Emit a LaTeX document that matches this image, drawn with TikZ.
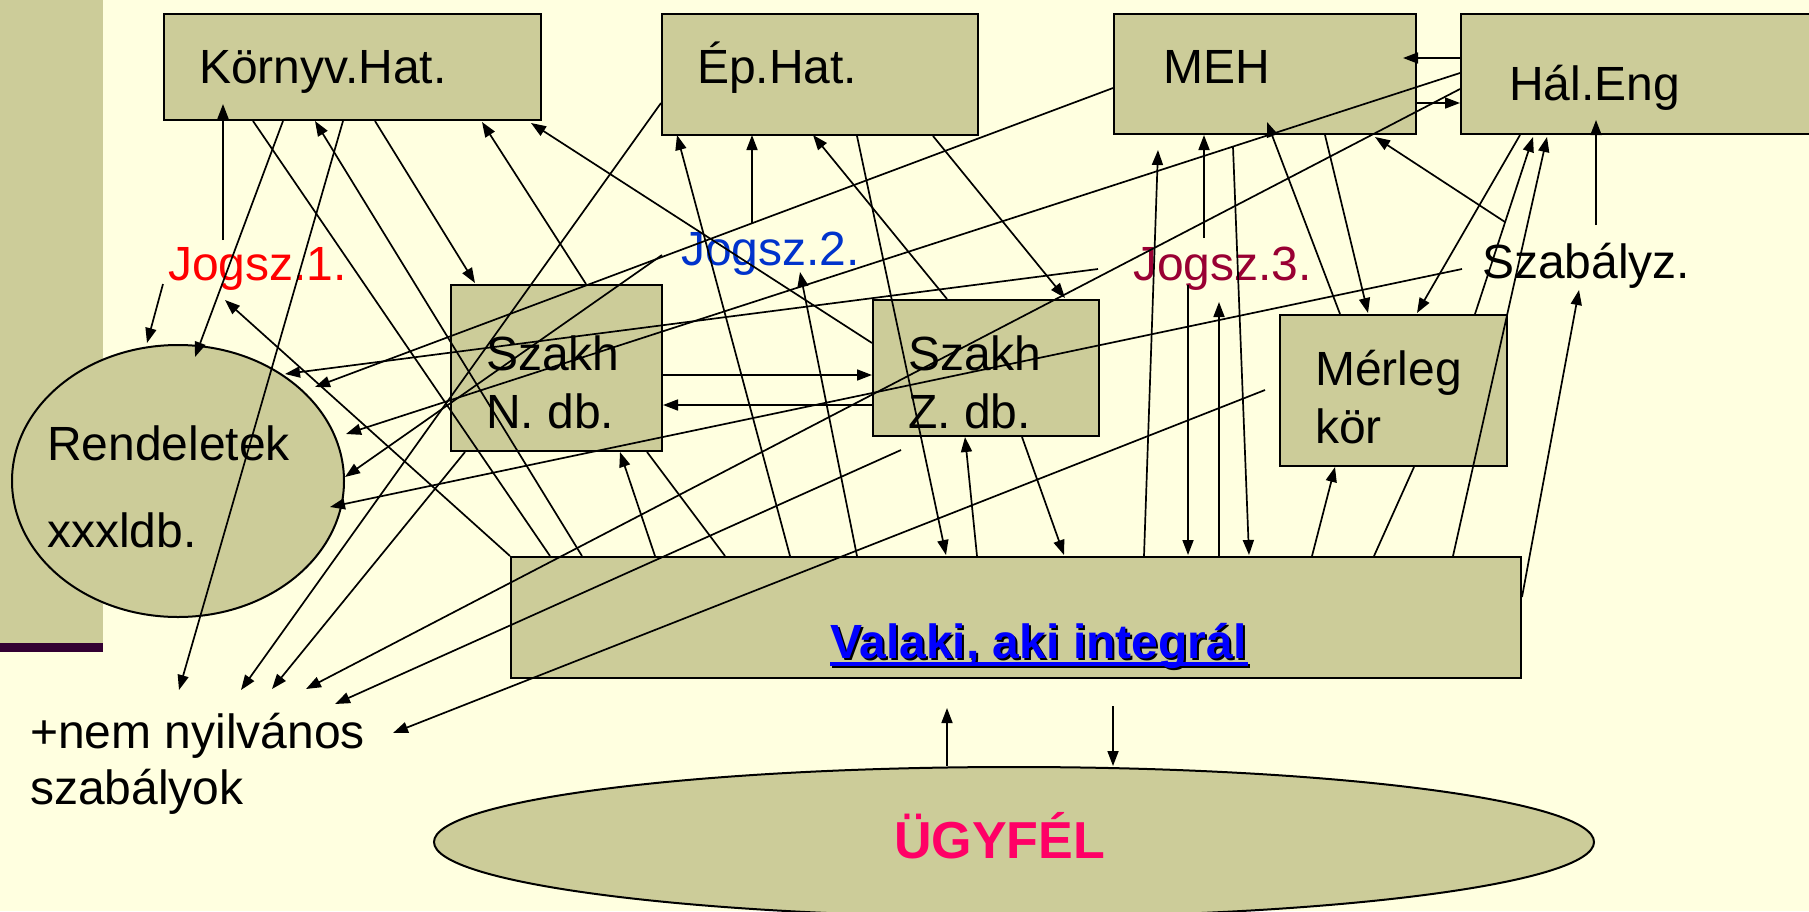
\documentclass[tikz,border=0pt]{standalone}
\usepackage{fontspec}
\setmainfont{Liberation Sans}
\usetikzlibrary{arrows.meta,shapes.geometric}
\definecolor{bg}{RGB}{255,255,224}
\definecolor{khaki}{RGB}{204,204,153}
\definecolor{barpurple}{RGB}{51,0,51}
\definecolor{jred}{RGB}{255,0,0}
\definecolor{jblue}{RGB}{0,51,204}
\definecolor{jwine}{RGB}{153,0,51}
\definecolor{ugy}{RGB}{255,0,102}
\definecolor{linkblue}{RGB}{0,0,255}
\begin{document}
\begin{tikzpicture}[x=1pt,y=-1pt,
  box/.style={draw=black, line width=2pt, fill=khaki, rectangle, inner sep=0pt, anchor=north west},
  oval/.style={draw=black, line width=2pt, fill=khaki, ellipse, inner sep=0pt},
  lbl/.style={anchor=base west, inner sep=0pt, font=\fontsize{48}{52}\selectfont},
  ar/.style={line width=1.7pt, -{Triangle[length=15pt,width=11pt]}},
  ln/.style={line width=1.7pt}]
\useasboundingbox (0,0) rectangle (1809,911);
\fill[bg] (0,0) rectangle (1809,911);
\fill[khaki] (0,0) rectangle (103,643);
\fill[barpurple] (0,643) rectangle (103,652);

% shapes
\node[box, minimum width=377pt, minimum height=106pt] (kh) at (163,13) {};
\node[box, minimum width=316pt, minimum height=121pt] (eh) at (661,13) {};
\node[box, minimum width=302pt, minimum height=120pt] (meh) at (1113,13) {};
\node[box, minimum width=360pt, minimum height=120pt] (hal) at (1460,13) {};
\node[box, minimum width=211pt, minimum height=166pt] (szn) at (450,284) {};
\node[box, minimum width=226pt, minimum height=136pt] (szz) at (872,299) {};
\node[box, minimum width=227pt, minimum height=151pt] (mer) at (1279,314) {};
\node[box, minimum width=1010pt, minimum height=121pt] (val) at (510,556) {};
\node[oval, minimum width=332pt, minimum height=272pt] (ren) at (178,481) {};
\node[oval, minimum width=1160pt, minimum height=150pt] (ugyfel) at (1014,842) {};

% texts
\node[lbl] (tkh) at (199,83) {Környv.Hat.};
\node[lbl] (teh) at (697,83) {Ép.Hat.};
\node[lbl] (tmeh) at (1163,83) {MEH};
\node[lbl] (thal) at (1509,100) {Hál.Eng};
\node[lbl, text=jred] (j1) at (168,280) {Jogsz.1.};
\node[lbl, text=jblue] (j2) at (681,265) {Jogsz.2.};
\node[lbl, text=jwine] (j3) at (1133,280) {Jogsz.3.};
\node[lbl] (szab) at (1482,278) {Szabályz.};
\node[lbl] (tszn1) at (486,370) {Szakh};
\node[lbl] (tszn2) at (486,428) {N. db.};
\node[lbl] (tszz1) at (908,370) {Szakh};
\node[lbl] (tszz2) at (908,428) {Z. db.};
\node[lbl] (tmer1) at (1315,385) {Mérleg};
\node[lbl] (tmer2) at (1315,443) {kör};
\node[lbl] (tren1) at (47,460) {Rendeletek};
\node[lbl] (tren2) at (47,547) {xxxldb.};
\node[lbl] (nem) at (30,748) {+nem nyilvános};
\node[lbl] (nem2) at (30,804) {szabályok};
\node[anchor=base west, inner sep=0pt, text=black, font=\bfseries\fontsize{48}{52}\selectfont] (tvalsh) at (832,660) {Valaki, aki integrál};
\fill[black] (832,664) rectangle (1250,668);
\node[anchor=base west, inner sep=0pt, text=linkblue, font=\bfseries\fontsize{48}{52}\selectfont] (tval) at (830,658) {Valaki, aki integrál};
\fill[linkblue] (830,662) rectangle (1248,666);
\node[anchor=base west, inner sep=0pt, text=ugy, font=\bfseries\fontsize{52}{56}\selectfont] (tugy) at (894,858) {ÜGYFÉL};

% Környv.Hat. connectors
\draw[ar] (223,240) -- (223,104);
\draw[ar] (163,284) -- (147,343);
\draw[ln] (253,0 |- kh.south) -- (550,0 |- val.north);
\draw[ar] (283,0 |- kh.south) -- (195,357);
\draw[ar] (582,0 |- val.north) -- (315,121);
\draw[ar] (343,0 |- kh.south) -- (179,690);
\draw[ar] (375,0 |- kh.south) -- (475,283);
\draw[ar] (586,0 |- szn.north) -- (482,122);
\draw[ar] (szz.west |- 0,343) -- (531,123);
\draw[ar] (val.north west) -- (225,300);

% Ép.Hat. connectors
\draw[ar] (eh.west |- 0,103) -- (241,690);
\draw[ar] (790,0 |- val.north) -- (677,135);
\draw[ar] (752,223) -- (752,135);
\draw[ar] (947,0 |- szz.north) -- (813,135);
\draw[ar] (857,0 |- eh.south) -- (946,555);
\draw[ar] (933,0 |- eh.south) -- (1065,298);
\draw[ar] (857,0 |- val.north) -- (800,272);
\draw[ar] (662,255) -- (345,477);

% MEH connectors
\draw[ar] (meh.west |- 0,88) -- (315,387);
\draw[ar] (hal.west |- 0,58) -- (1403,58);
\draw[ar] (meh.east |- 0,103) -- (1460,103);
\draw[ar] (1144,0 |- val.north) -- (1158,150);
\draw[ar] (1204,238) -- (1204,135);
\draw[ar] (1233,147) -- (1249,555);
\draw[ar] (1188,285) -- (1188,555);
\draw[ar] (1219,0 |- val.north) -- (1219,302);
\draw[ar] (1340,0 |- mer.north) -- (1267,122);
\draw[ar] (1325,0 |- meh.south) -- (1368,313);

% Hál.Eng connectors
\draw[ar] (hal.west |- 0,73) -- (346,434);
\draw[ar] (hal.west |- 0,89) -- (306,689);
\draw[ar] (1520,0 |- hal.south) -- (1417,313);
\draw[ar] (1475,0 |- mer.north) -- (1533,137);
\draw[ar] (1453,0 |- val.north) -- (1547,137);
\draw[ar] (1505,222) -- (1375,137);
\draw[ar] (1596,225) -- (1596,120);

% other connectors
\draw[ar] (1462,269) -- (330,507);
\draw[ar] (1098,269) -- (285,374);
\draw[ar] (val.east |- 0,597) -- (1579,290);
\draw[ar] (1312,0 |- val.north) -- (1335,467);
\draw[ln] (1414,0 |- mer.south) -- (1374,0 |- val.north);
\draw[ar] (1265,390) -- (393,733);
\draw[ar] (901,450) -- (335,704);
\draw[ar] (465,0 |- szn.south) -- (272,689);
\draw[ar] (655,0 |- val.north) -- (620,452);
\draw[ln] (647,0 |- szn.south) -- (725,0 |- val.north);
\draw[ar] (977,0 |- val.north) -- (965,437);
\draw[ar] (1022,0 |- szz.south) -- (1064,555);
\draw[ar] (szn.east |- 0,375) -- (szz.west |- 0,375);
\draw[ar] (szz.west |- 0,405) -- (szn.east |- 0,405);
\draw[ar] (947,0 |- ugyfel.north) -- (947,708);
\draw[ar] (1113,706) -- (1113,0 |- ugyfel.north);
\end{tikzpicture}
\end{document}
